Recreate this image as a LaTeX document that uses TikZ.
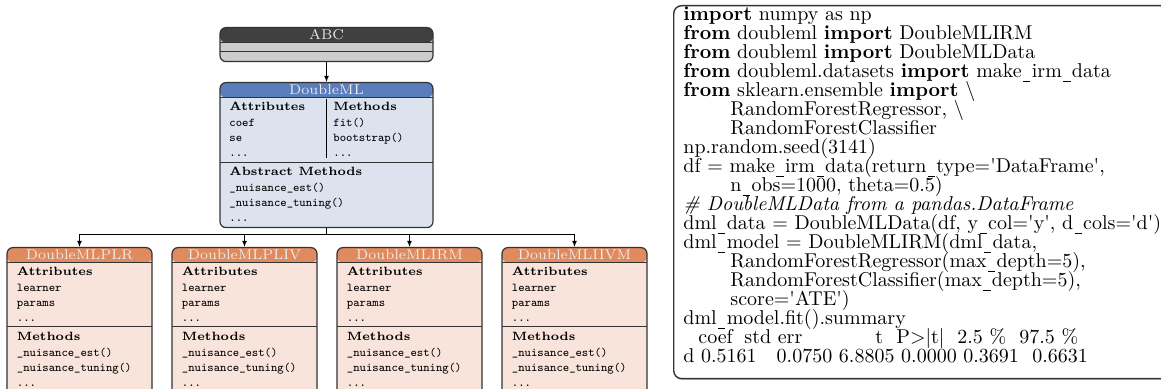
\documentclass[tikz,border=0pt]{standalone}
\usepackage{fontspec}
\usetikzlibrary{positioning,arrows.meta,shadows}
\definecolor{lineclr}{HTML}{333333}
\definecolor{abchead}{HTML}{404040}
\definecolor{abcrow}{HTML}{CCCCCC}
\definecolor{dmlhead}{HTML}{5A7DBB}
\definecolor{dmlbody}{HTML}{DCE3EE}
\definecolor{subhead}{HTML}{E08B5F}
\definecolor{subbody}{HTML}{F8E4DA}
\newcommand{\sz}{\fontsize{6}{7.65}\selectfont}
\newcommand{\hd}{\fontsize{7.1}{8}\selectfont}
\newcommand{\cd}{\fontsize{10}{9.5}\selectfont\lineskiplimit=-\maxdimen}
\newcommand{\us}{\kern0.07em\rule[-0.2em]{0.36em}{0.045em}\kern0.07em}
\newcommand{\ind}{\hspace*{23.5pt}}
\newcommand{\colat}[2]{\rlap{\hspace*{#1}#2}}
\begin{document}
\begin{tikzpicture}[x=0.5pt, y=-0.5pt]
	\tikzset{cls/.style={draw=lineclr, line width=0.6pt, rounded corners=3pt, inner sep=0pt, anchor=north},
		band/.style 2 args={path picture={
			\fill[#1] (path picture bounding box.north west) rectangle ([yshift=-7.5pt]path picture bounding box.north east);
			\draw[lineclr, line width=0.6pt] ([yshift=-7.5pt]path picture bounding box.north west) -- ([yshift=-7.5pt]path picture bounding box.north east);
			\draw[lineclr, line width=0.6pt] ([yshift=-#2]path picture bounding box.north west) -- ([yshift=-#2]path picture bounding box.north east);}},
		sub/.style={cls, fill=subbody, band={subhead}{39.5pt}, minimum width=72.5pt, minimum height=74pt},
		title/.style={font=\hd, text=white!92!black, inner sep=0pt},
		txt/.style={font=\sz, align=left, inner sep=0pt, anchor=north west},
		arr/.style={draw=black, line width=0.5pt, -{Latex[length=3pt, width=2.4pt]}},
		sep/.style={draw=black, line width=0.6pt}};

	\useasboundingbox (0,0) rectangle (1161,389);
	\clip (0,0) rectangle (1161,389);

	% base classes
	\node[cls, fill=abcrow, band={abchead}{12pt}, minimum width=106.5pt, minimum height=17pt] (abc) at (326.5,27) {};
	\node[title] (abct) at ([yshift=-3.75pt]abc.north) {ABC};

	\node[cls, fill=dmlbody, band={dmlhead}{40pt}, minimum width=106.5pt, minimum height=72.5pt] (dml) at (326.5,82) {};
	\node[title] (dmlt) at ([yshift=-3.75pt]dml.north) {DoubleML};
	\node[txt] (dmla) at (229,102) {\textbf{Attributes}\\\texttt{coef}\\\texttt{se}\\\texttt{...}};
	\node[txt] (dmlm) at (333,102) {\textbf{Methods}\\\texttt{fit()}\\\texttt{bootstrap()}\\\texttt{...}};
	\node[txt] (dmlx) at (229,167) {\textbf{Abstract Methods}\\\texttt{\_nuisance\_est()}\\\texttt{\_nuisance\_tuning()}\\\texttt{...}};
	\draw[sep] ([yshift=-8.5pt]dml.north) -- ([yshift=-38pt]dml.north);

	% model classes
	\node[sub] (plr) at (79.5,247) {};
	\node[title] (plrt) at ([yshift=-3.75pt]plr.north) {DoubleMLPLR};
	\node[txt] (plra) at (16.5,267) {\textbf{Attributes}\\\texttt{learner}\\\texttt{params}\\\texttt{...}};
	\node[txt] (plrm) at (16.5,332) {\textbf{Methods}\\\texttt{\_nuisance\_est()}\\\texttt{\_nuisance\_tuning()}\\\texttt{...}};

	\node[sub] (pliv) at (244.5,247) {};
	\node[title] (plivt) at ([yshift=-3.75pt]pliv.north) {DoubleMLPLIV};
	\node[txt] (pliva) at (181.5,267) {\textbf{Attributes}\\\texttt{learner}\\\texttt{params}\\\texttt{...}};
	\node[txt] (plivm) at (181.5,332) {\textbf{Methods}\\\texttt{\_nuisance\_est()}\\\texttt{\_nuisance\_tuning()}\\\texttt{...}};

	\node[sub] (irm) at (409.5,247) {};
	\node[title] (irmt) at ([yshift=-3.75pt]irm.north) {DoubleMLIRM};
	\node[txt] (irma) at (346.5,267) {\textbf{Attributes}\\\texttt{learner}\\\texttt{params}\\\texttt{...}};
	\node[txt] (irmm) at (346.5,332) {\textbf{Methods}\\\texttt{\_nuisance\_est()}\\\texttt{\_nuisance\_tuning()}\\\texttt{...}};

	\node[sub] (iivm) at (574.5,247) {};
	\node[title] (iivmt) at ([yshift=-3.75pt]iivm.north) {DoubleMLIIVM};
	\node[txt] (iivma) at (511.5,267) {\textbf{Attributes}\\\texttt{learner}\\\texttt{params}\\\texttt{...}};
	\node[txt] (iivmm) at (511.5,332) {\textbf{Methods}\\\texttt{\_nuisance\_est()}\\\texttt{\_nuisance\_tuning()}\\\texttt{...}};

	\draw[arr] (abc.south) -- (dml.north);
	\draw[arr] (dml.south) -- ++(0,6) -| (plr.north);
	\draw[arr] (dml.south) -- ++(0,6) -| (pliv.north);
	\draw[arr] (dml.south) -- ++(0,6) -| (irm.north);
	\draw[arr] (dml.south) -- ++(0,6) -| (iivm.north);

	% code example
	\node[draw=lineclr, fill=white, line width=0.7pt, rounded corners=4pt, inner sep=0pt, anchor=north west, minimum width=270pt, minimum height=186.5pt,
		drop shadow={shadow xshift=0.3pt, shadow yshift=-0.6pt, opacity=0.35}] (srcbox) at (673,5) {};
	\node[font=\cd, align=left, inner sep=0pt, anchor=north west] (src) at (683,6.5) {%
		\textbf{import} numpy as np\\
		\textbf{from} doubleml \textbf{import} DoubleMLIRM\\
		\textbf{from} doubleml \textbf{import} DoubleMLData\\
		\textbf{from} doubleml.datasets \textbf{import} make\us irm\us data\\
		\textbf{from} sklearn.ensemble \textbf{import} \textbackslash\\
		\ind RandomForestRegressor, \textbackslash\\
		\ind RandomForestClassifier\\
		np.random.seed(3141)\\
		df = make\us irm\us data(return\us type=\textquotesingle DataFrame\textquotesingle,\\
		\ind n\us obs=1000, theta=0.5)\\
		\textit{\# DoubleMLData from a pandas.DataFrame}\\
		dml\us data = DoubleMLData(df, y\us col=\textquotesingle y\textquotesingle, d\us cols=\textquotesingle d\textquotesingle)\\
		dml\us model = DoubleMLIRM(dml\us data,\\
		\ind RandomForestRegressor(max\us depth=5),\\
		\ind RandomForestClassifier(max\us depth=5),\\
		\ind score=\textquotesingle ATE\textquotesingle)\\
		dml\us model.fit().summary\\
		\colat{7.5pt}{coef}\colat{30.5pt}{std err}\colat{96pt}{t}\colat{106.5pt}{P>|t|}\colat{137pt}{2.5 \%}\hspace*{168pt}97.5 \%\\
		d 0.5161\hspace{10pt}0.0750 6.8805 0.0000 0.3691\hspace{6.66pt}0.6631};

\end{tikzpicture}
\end{document}
